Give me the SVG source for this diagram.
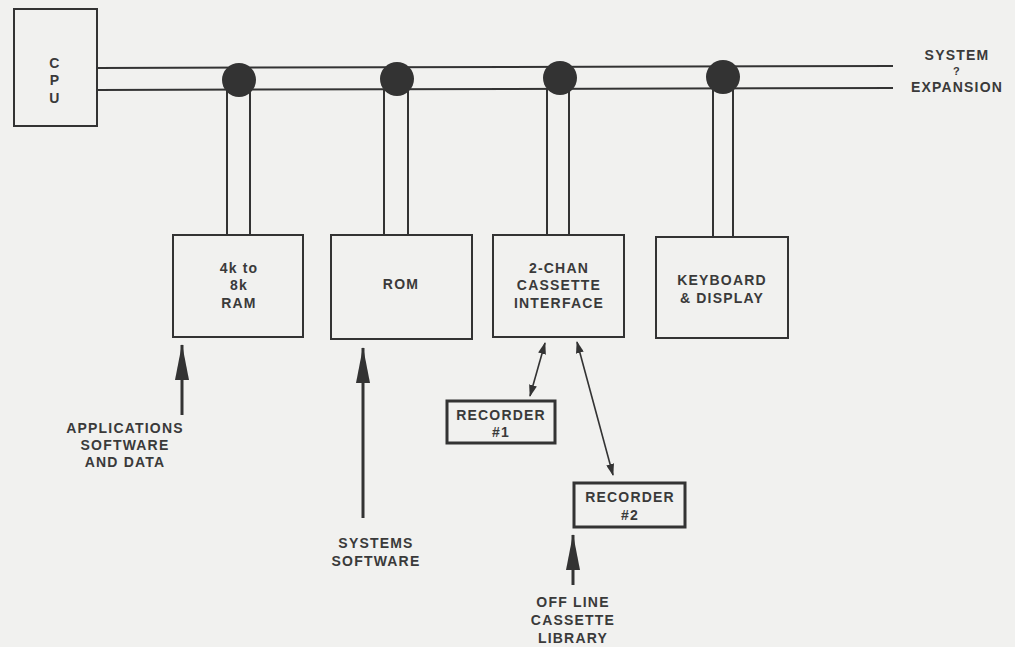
<svg xmlns="http://www.w3.org/2000/svg" width="1015" height="647" viewBox="0 0 1015 647">
<defs>
<style>
.bg{fill:#f1f1ef}
.box{fill:none;stroke:#333;stroke-width:2}
.rec{fill:none;stroke:#333;stroke-width:3}
.ln{fill:none;stroke:#333;stroke-width:2}
.dot{fill:#333}
text{font-family:"Liberation Sans",Arial,sans-serif;font-weight:bold;font-size:14px;fill:#3a3a3a;text-anchor:middle;letter-spacing:1.2px}
.q{font-size:11px}
.arr{fill:none;stroke:#333;stroke-width:3}
.thin{fill:none;stroke:#333;stroke-width:1.6}
</style>
<marker id="big" markerUnits="userSpaceOnUse" markerWidth="36" markerHeight="16" refX="35" refY="8" orient="auto">
<path d="M0,1 L36,8 L0,15 Z" fill="#333"/>
</marker>
<marker id="sm" markerUnits="userSpaceOnUse" markerWidth="12" markerHeight="8" refX="11" refY="4" orient="auto-start-reverse">
<path d="M0,0 L12,4 L0,8 Z" fill="#333"/>
</marker>
</defs>
<rect class="bg" x="0" y="0" width="1015" height="647"/>

<g id="connectors">
<line class="ln" x1="97" y1="68" x2="893" y2="66"/>
<line class="ln" x1="97" y1="90" x2="893" y2="88"/>
<line class="ln" x1="227" y1="90" x2="227" y2="235"/>
<line class="ln" x1="250" y1="90" x2="250" y2="235"/>
<line class="ln" x1="384" y1="89" x2="384" y2="235"/>
<line class="ln" x1="408" y1="89" x2="408" y2="235"/>
<line class="ln" x1="547" y1="89" x2="547" y2="235"/>
<line class="ln" x1="569" y1="89" x2="569" y2="235"/>
<line class="ln" x1="713" y1="88" x2="713" y2="237"/>
<line class="ln" x1="733" y1="88" x2="733" y2="237"/>
<circle class="dot" cx="239" cy="80" r="17"/>
<circle class="dot" cx="397" cy="79" r="17"/>
<circle class="dot" cx="560" cy="78" r="17"/>
<circle class="dot" cx="723" cy="77" r="17"/>
<line class="arr" x1="182" y1="415" x2="182" y2="345" marker-end="url(#big)"/>
<line class="arr" x1="363" y1="518" x2="363" y2="348" marker-end="url(#big)"/>
<line class="arr" x1="573" y1="585" x2="573" y2="535" marker-end="url(#big)"/>
<line class="thin" x1="545" y1="343" x2="530" y2="396" marker-start="url(#sm)" marker-end="url(#sm)"/>
<line class="thin" x1="577" y1="342" x2="613" y2="475" marker-start="url(#sm)" marker-end="url(#sm)"/>
</g>

<g id="cpu">
<rect class="box" x="14" y="9" width="83" height="117"/>
<text x="55" y="68">C</text>
<text x="55" y="85">P</text>
<text x="55" y="103">U</text>
</g>

<g id="expansion">
<text x="957" y="60">SYSTEM</text>
<text class="q" x="957" y="75">?</text>
<text x="957" y="92">EXPANSION</text>
</g>

<g id="ram">
<rect class="box" x="173" y="235" width="130" height="102"/>
<text x="239" y="273">4k to</text>
<text x="239" y="290">8k</text>
<text x="239" y="308">RAM</text>
</g>

<g id="rom">
<rect class="box" x="331" y="235" width="141" height="104"/>
<text x="401" y="289">ROM</text>
</g>

<g id="cassette">
<rect class="box" x="493" y="235" width="131" height="102"/>
<text x="559" y="273">2-CHAN</text>
<text x="559" y="290">CASSETTE</text>
<text x="559" y="308">INTERFACE</text>
</g>

<g id="keyboard">
<rect class="box" x="656" y="237" width="132" height="101"/>
<text x="722" y="285">KEYBOARD</text>
<text x="722" y="303">&amp; DISPLAY</text>
</g>

<g id="recorder1">
<rect class="rec" x="447" y="401" width="108" height="42"/>
<text x="501" y="420">RECORDER</text>
<text x="501" y="437">#1</text>
</g>

<g id="recorder2">
<rect class="rec" x="574" y="483" width="111" height="44"/>
<text x="630" y="502">RECORDER</text>
<text x="630" y="520">#2</text>
</g>

<g id="apps">
<text x="125" y="433">APPLICATIONS</text>
<text x="125" y="450">SOFTWARE</text>
<text x="125" y="467">AND DATA</text>
</g>

<g id="syssw">
<text x="376" y="548">SYSTEMS</text>
<text x="376" y="566">SOFTWARE</text>
</g>

<g id="offline">
<text x="573" y="607">OFF LINE</text>
<text x="573" y="625">CASSETTE</text>
<text x="573" y="643">LIBRARY</text>
</g>
</svg>
